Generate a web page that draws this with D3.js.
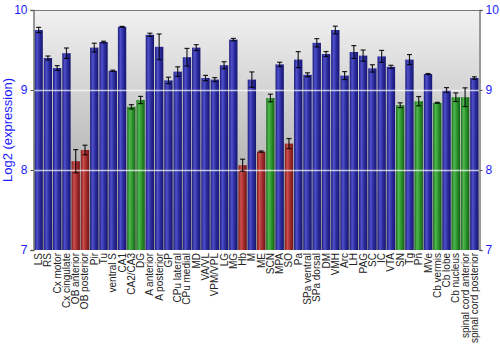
<!DOCTYPE html>
<html><head><meta charset="utf-8">
<script src="https://cdn.jsdelivr.net/npm/d3@7"></script>
<style>body{margin:0;background:#fff}svg{display:block;font-family:"Liberation Sans",Arial,sans-serif}</style>
</head><body>
<svg id="c" width="500" height="350"></svg>
<script>
const categories = ["LS","RS","Cx motor","Cx cingulate","OB anterior","OB posterior","Pir","Tu","ventral S","CA1","CA2/CA3","DG","A anterior","A posterior","GP","CPu lateral","CPu medial","MD","VA/VL","VPM/VPL","LG","MG","Hb","M","ME","SCN","MPA","SO","Pa","SPa ventral","SPa dorsal","DM","VMH","Arc","LH","PAG","SC","IC","VTA","SN","Tg","Pn","MVe","Cb vermis","Cb lobe","Cb nucleus","spinal cord anterior","spinal cord posterior"];
const values = [9.75,9.40,9.275,9.46,8.11,8.25,9.53,9.60,9.24,9.79,8.79,8.875,9.69,9.54,9.12,9.23,9.41,9.53,9.15,9.13,9.31,9.63,8.06,9.13,8.23,8.90,9.32,8.33,9.38,9.19,9.59,9.45,9.75,9.18,9.475,9.43,9.27,9.42,9.29,8.81,9.38,8.86,9.20,8.84,9.00,8.91,8.91,9.15];
const errors = [0.033,0.025,0.03,0.065,0.145,0.06,0.055,0.01,0.008,0.005,0.027,0.045,0.02,0.16,0.04,0.06,0.11,0.037,0.033,0.025,0.044,0.015,0.075,0.096,0.008,0.048,0.027,0.063,0.1,0.025,0.052,0.031,0.048,0.05,0.08,0.07,0.046,0.075,0.019,0.03,0.063,0.058,0.006,0.006,0.03,0.054,0.117,0.015];
const groups = ["b","b","b","b","r","r","b","b","b","b","g","g","b","b","b","b","b","b","b","b","b","b","r","b","r","g","b","r","b","b","b","b","b","b","b","b","b","b","b","g","b","g","b","g","b","g","g","b"];
const yTicks = [7,8,9,10];

const svg = d3.select("#c");
const m = {l:34, r:479, t:10, b:250};
const x = d3.scaleBand().domain(categories).range([m.l, m.r]).paddingInner(0.1).paddingOuter(0.05);
const y = d3.scaleLinear().domain([7,10]).range([m.b, m.t]);

const defs = svg.append("defs");
const bg = defs.append("linearGradient").attr("id","bg").attr("x1",0).attr("y1",0).attr("x2",0).attr("y2",1);
bg.append("stop").attr("offset","0%").attr("stop-color","#f2f2f2");
bg.append("stop").attr("offset","100%").attr("stop-color","#979797");
const pal = {b:["#1a1a78","#5050cc","#2a2a9a","#161670"], r:["#7a1a1a","#cc5050","#a02a2a","#701616"], g:["#1a6e1a","#50b850","#2a902a","#166016"]};
Object.entries(pal).forEach(([k,c])=>{
  const g = defs.append("linearGradient").attr("id","g"+k).attr("x1",0).attr("y1",0).attr("x2",1).attr("y2",0);
  g.append("stop").attr("offset","0%").attr("stop-color",c[0]);
  g.append("stop").attr("offset","30%").attr("stop-color",c[1]);
  g.append("stop").attr("offset","65%").attr("stop-color",c[2]);
  g.append("stop").attr("offset","100%").attr("stop-color",c[3]);
});

svg.append("rect").attr("x",m.l).attr("y",m.t).attr("width",m.r-m.l).attr("height",m.b-m.t).attr("fill","url(#bg)");

// bars
svg.append("g").selectAll("rect").data(categories).join("rect")
  .attr("x",d=>x(d)).attr("width",x.bandwidth())
  .attr("y",(d,i)=>y(values[i])).attr("height",(d,i)=>y(7)-y(values[i]))
  .attr("fill",(d,i)=>"url(#g"+groups[i]+")");

// grid lines over bars
svg.append("g").selectAll("line").data([8,9]).join("line")
  .attr("x1",m.l).attr("x2",m.r).attr("y1",d=>y(d)+0.5).attr("y2",d=>y(d)+0.5)
  .attr("stroke","#fff").attr("stroke-opacity",0.7).attr("stroke-width",1.5);

// error bars
const eg = svg.append("g").attr("stroke","#000").attr("stroke-opacity",0.85).attr("stroke-width",1.2);
categories.forEach((c,i)=>{
  const cx = x(c)+x.bandwidth()/2;
  const y1 = y(values[i]+errors[i]), y2 = y(values[i]-errors[i]);
  eg.append("line").attr("x1",cx).attr("x2",cx).attr("y1",y1).attr("y2",y2);
  eg.append("line").attr("x1",cx-2.5).attr("x2",cx+2.5).attr("y1",y1).attr("y2",y1);
  eg.append("line").attr("x1",cx-2.5).attr("x2",cx+2.5).attr("y1",y2).attr("y2",y2);
});

// frame
svg.append("line").attr("x1",m.l).attr("x2",m.r).attr("y1",m.t+0.5).attr("y2",m.t+0.5).attr("stroke","#777");

// axes
const la = d3.axisLeft(y).tickValues(yTicks).tickFormat(d3.format("d")).tickSize(3).tickPadding(3);
const ra = d3.axisRight(y).tickValues(yTicks).tickFormat(d3.format("d")).tickSize(3).tickPadding(3);
const gl = svg.append("g").attr("transform",`translate(${m.l-0.5},0)`).call(la);
const gr = svg.append("g").attr("transform",`translate(${m.r+0.5},0)`).call(ra);
[gl,gr].forEach(g=>{
  g.select(".domain").attr("stroke","#777").attr("stroke-width",1.5);
  g.selectAll(".tick line").attr("stroke","#555");
  g.selectAll(".tick text").attr("fill","#1a1aff").attr("font-size",12).attr("font-family","Liberation Sans, Arial, sans-serif");
});

// x labels
const xa = d3.axisBottom(x).tickSize(0).tickPadding(3);
const gx = svg.append("g").attr("transform",`translate(0,${m.b})`).call(xa);
gx.select(".domain").remove();
gx.selectAll(".tick text").attr("font-size",10).attr("fill","#222").attr("font-family","Liberation Sans, Arial, sans-serif")
  .attr("transform","rotate(-90)").attr("text-anchor","end").attr("dy","0.35em").attr("x",-3).attr("y",0);

// y title
svg.append("text").attr("transform","translate(12,130) rotate(-90)").attr("text-anchor","middle")
  .attr("font-size",13).attr("fill","#1a1aff").text("Log2 (expression)");
</script>
</body></html>
